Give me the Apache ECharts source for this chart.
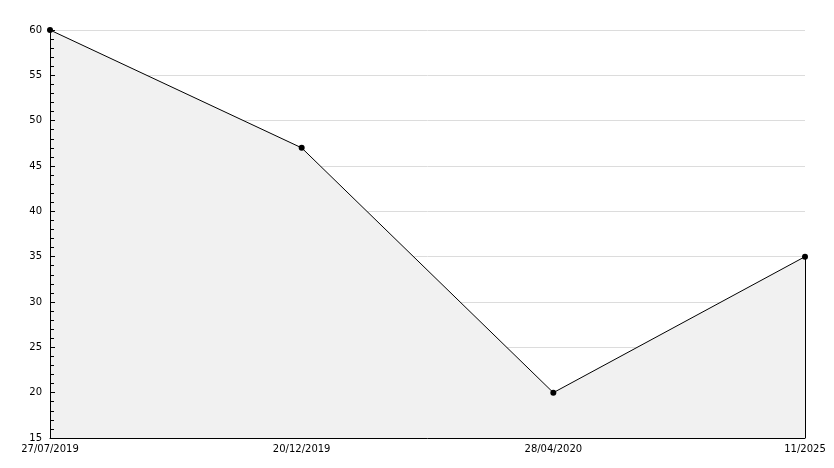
<!DOCTYPE html>
<html><head><meta charset="utf-8">
<script src="https://cdn.jsdelivr.net/npm/echarts@6/dist/echarts.min.js"></script>
<style>html,body{margin:0;padding:0;background:#fff}#c{width:834px;height:468px}</style>
</head><body><div id="c"></div>
<script>
var categories = ['27/07/2019', '20/12/2019', '28/04/2020', '11/2025'];
var values = [60, 47, 20, 35];
var yMin = 15, yMax = 60, yStep = 5;

var chart = echarts.init(document.getElementById('c'));
var font = 'DejaVu Sans';
var lastCat = categories[categories.length - 1];
var lastVal = values[values.length - 1];
chart.setOption({
  animation: false,
  grid: {left: 50, right: 29, top: 30, bottom: 30},
  xAxis: {
    type: 'category', data: categories, boundaryGap: false, z: 5,
    axisLine: {lineStyle: {color: '#000', width: 1}},
    axisTick: {show: false},
    axisLabel: {color: '#000', fontFamily: font, fontSize: 10, margin: 6, showMinLabel: true, showMaxLabel: true, interval: 0},
    splitLine: {show: false}
  },
  yAxis: [{
    type: 'value', min: yMin, max: yMax, interval: yStep, z: 0,
    axisLine: {show: false}, axisTick: {show: false}, axisLabel: {show: false},
    splitLine: {show: true, lineStyle: {color: '#dcdcdc', width: 1}}
  }, {
    type: 'value', min: yMin, max: yMax, interval: yStep, z: 5, position: 'left',
    axisLine: {show: true, lineStyle: {color: '#000', width: 1}},
    axisTick: {show: true, inside: true, length: 5, lineStyle: {color: '#000'}},
    minorTick: {show: true, splitNumber: 5, length: 4, lineStyle: {color: '#000'}},
    axisLabel: {color: '#000', fontFamily: font, fontSize: 10, margin: 8},
    splitLine: {show: false}
  }],
  series: [{
    type: 'line', data: values, yAxisIndex: 0,
    lineStyle: {color: '#000', width: 1},
    itemStyle: {color: '#000'},
    symbol: 'circle', symbolSize: 6,
    areaStyle: {color: '#f1f1f1', opacity: 1, origin: 'start'},
    markLine: {
      silent: true, symbol: ['none', 'none'], label: {show: false},
      lineStyle: {color: '#000', width: 1, type: 'solid'},
      data: [[{coord: [lastCat, yMin]}, {coord: [lastCat, lastVal]}]]
    }
  }]
});
</script></body></html>
